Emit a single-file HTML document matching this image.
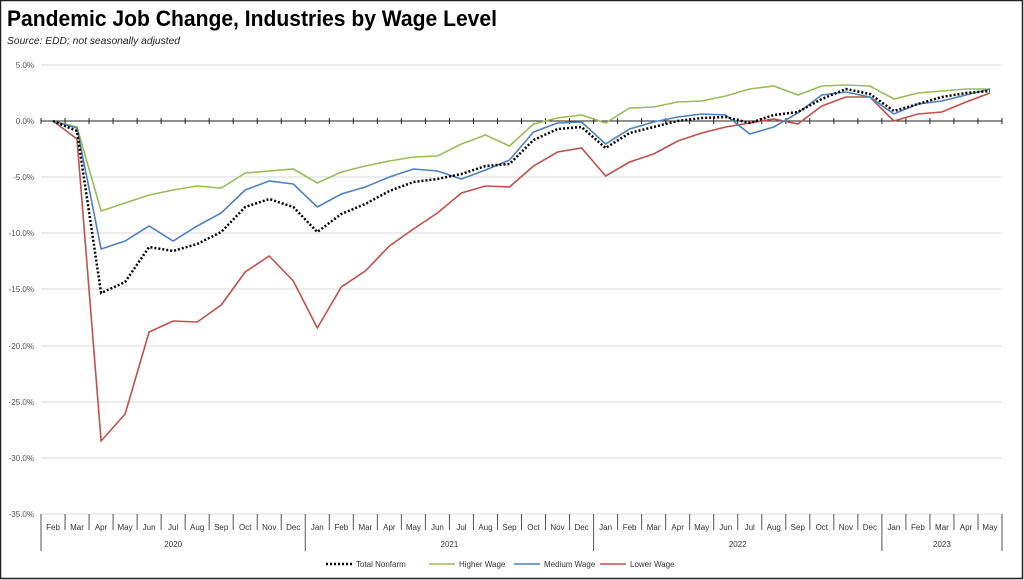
<!DOCTYPE html>
<html><head><meta charset="utf-8"><style>
body{margin:0;background:#fff;}
svg{display:block;font-family:"Liberation Sans",sans-serif;}
</style></head><body>
<svg width="1024" height="580" viewBox="0 0 1024 580" xmlns="http://www.w3.org/2000/svg">
<rect x="0.5" y="0.5" width="1022" height="578" fill="#fff" stroke="#222" stroke-width="1.5"/>
<text x="7" y="26" font-size="22" font-weight="bold" fill="#000" textLength="490" lengthAdjust="spacingAndGlyphs">Pandemic Job Change, Industries by Wage Level</text>
<text x="7" y="44" font-size="10" font-style="italic" fill="#222" textLength="173" lengthAdjust="spacingAndGlyphs">Source:  EDD; not seasonally adjusted</text>
<g stroke="#d9d9d9" stroke-width="1">
<line x1="41" x2="1002" y1="65" y2="65"/><line x1="41" x2="1002" y1="177" y2="177"/><line x1="41" x2="1002" y1="233" y2="233"/><line x1="41" x2="1002" y1="289" y2="289"/><line x1="41" x2="1002" y1="346" y2="346"/><line x1="41" x2="1002" y1="402" y2="402"/><line x1="41" x2="1002" y1="458" y2="458"/><line x1="41" x2="1002" y1="514" y2="514"/>
</g>
<g font-size="8" fill="#555" text-anchor="end">
<text x="34" y="68">5.0%</text><text x="34" y="124">0.0%</text><text x="34" y="180">-5.0%</text><text x="34" y="236">-10.0%</text><text x="34" y="292">-15.0%</text><text x="34" y="349">-20.0%</text><text x="34" y="405">-25.0%</text><text x="34" y="461">-30.0%</text><text x="34" y="517">-35.0%</text>
</g>
<line x1="41" x2="1002" y1="121" y2="121" stroke="#222" stroke-width="1"/>
<g id="ticks" stroke="#222" stroke-width="1"></g>
<g id="axis" stroke="#555" stroke-width="1"></g>
<g id="labels" font-size="8" fill="#333" text-anchor="middle"></g>
<g id="series" fill="none"></g>
<g font-size="8" fill="#333">
<line x1="326" x2="352" y1="564" y2="564" stroke="#000" stroke-width="2.5" stroke-dasharray="2,2"/><text x="356" y="567">Total Nonfarm</text>
<line x1="429" x2="455" y1="564" y2="564" stroke="#9bbb59" stroke-width="1.5"/><text x="459" y="567">Higher Wage</text>
<line x1="514" x2="540" y1="564" y2="564" stroke="#4f81bd" stroke-width="1.5"/><text x="544" y="567">Medium Wage</text>
<line x1="600" x2="626" y1="564" y2="564" stroke="#c0504d" stroke-width="1.5"/><text x="630" y="567">Lower Wage</text>
</g>
</svg>
<script>
var ns="http://www.w3.org/2000/svg";
function el(p,t,a,txt){var e=document.createElementNS(ns,t);for(var k in a)e.setAttribute(k,a[k]);if(txt)e.textContent=txt;document.getElementById(p).appendChild(e);}
var x0=41,w=24.025;
var months=["Jan","Feb","Mar","Apr","May","Jun","Jul","Aug","Sep","Oct","Nov","Dec"];
for(var i=0;i<=40;i++){var x=x0+i*w;el("ticks","line",{x1:x,x2:x,y1:118,y2:124});
 var m=(i+1)%12; var long=(m==0)||i==0||i==40;
 el("axis","line",{x1:x,x2:x,y1:514,y2:long?551:530});
 if(i<40)el("labels","text",{x:x+w/2,y:530},months[(i+1)%12]);}
[["2020",0,11],["2021",11,23],["2022",23,35],["2023",35,40]].forEach(function(a){el("labels","text",{x:x0+(a[1]+a[2])/2*w,y:547},a[0]);});
var G=[121,127,211,203,195,190,186,188,173,171,169,183,172,166,161,157,156,144,135,146,124,118,115,123,108,107,102,101,96,89,86,95,86,85,86,99,93,91,89,89];
var B=[121,128,249,241,226,241,226,213,190,181,184,207,194,187,177,169,171,179,170,160,132,123,122,144,129,122,117,114,115,134,127,113,95,92,97,114,104,101,95,89];
var K=[121,131,293,282,247,251,244,232,207,199,207,232,214,204,191,182,179,174,166,164,140,129,127,148,133,127,121,118,117,123,115,112,99,89,94,111,104,97,93,91];
var R=[121,139,441,414,332,321,322,305,272,256,281,328,287,271,246,229,213,193,186,187,166,152,148,176,162,154,141,133,127,123,119,124,106,97,97,121,114,112,102,93];
function pts(a){return a.map(function(y,i){return (x0+w/2+i*w).toFixed(1)+","+y;}).join(" ");}
el("series","polyline",{points:pts(R),stroke:"#c0504d","stroke-width":1.6});
el("series","polyline",{points:pts(G),stroke:"#9bbb59","stroke-width":1.6});
el("series","polyline",{points:pts(B),stroke:"#4f81bd","stroke-width":1.6});
el("series","polyline",{points:pts(K),stroke:"#000","stroke-width":2.5,"stroke-dasharray":"2,2"});
</script>
</body></html>
